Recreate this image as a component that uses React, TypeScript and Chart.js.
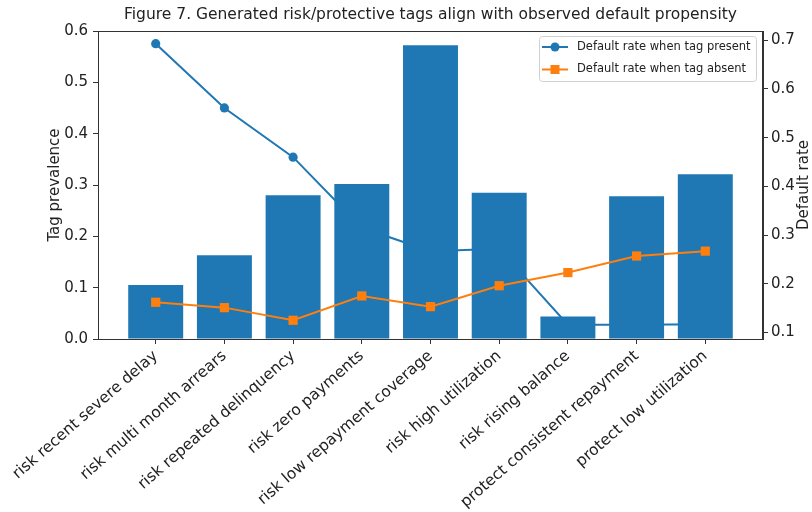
import React, { useEffect, useRef } from 'react';
import { Chart, registerables } from 'chart.js';

Chart.register(...registerables);

const categories = [
  'risk recent severe delay',
  'risk multi month arrears',
  'risk repeated delinquency',
  'risk zero payments',
  'risk low repayment coverage',
  'risk high utilization',
  'risk rising balance',
  'protect consistent repayment',
  'protect low utilization',
];
const prevalence = [0.105, 0.163, 0.28, 0.302, 0.572, 0.285, 0.044, 0.278, 0.321];
const ratePresent = [0.693, 0.561, 0.46, 0.315, 0.267, 0.272, 0.116, 0.116, 0.117];
const rateAbsent = [0.162, 0.151, 0.125, 0.175, 0.153, 0.196, 0.223, 0.257, 0.267];
const leftTicks = [0, 0.1, 0.2, 0.3, 0.4, 0.5, 0.6];
const rightTicks = [0.1, 0.2, 0.3, 0.4, 0.5, 0.6, 0.7];

const titleText = 'Figure 7. Generated risk/protective tags align with observed default propensity';
const leftTitle = 'Tag prevalence';
const rightTitle = 'Default rate';
const legendPresent = 'Default rate when tag present';
const legendAbsent = 'Default rate when tag absent';

const BLUE = '#1f77b4';
const ORANGE = '#ff7f0e';
const AXIS = '#333333';
const TEXT = '#222222';
const FONT = "'DejaVu Sans', sans-serif";

const decorPlugin = {
  id: 'decor',
  afterDraw(chart: any) {
    const { ctx, chartArea } = chart;
    const { left, right, top, bottom } = chartArea;
    ctx.save();
    // frame
    ctx.strokeStyle = AXIS;
    ctx.lineWidth = 1;
    ctx.strokeRect(left + 0.5, top + 0.5, right - left - 1, bottom - top);
    // title
    ctx.fillStyle = TEXT;
    ctx.font = `15.5px ${FONT}`;
    ctx.textAlign = 'center';
    ctx.textBaseline = 'middle';
    ctx.fillText(titleText, (left + right) / 2, 15);
    // right axis title
    ctx.save();
    ctx.translate(804, (top + bottom) / 2);
    ctx.rotate(-Math.PI / 2);
    ctx.font = `15px ${FONT}`;
    ctx.fillText(rightTitle, 0, 0);
    ctx.restore();
    // legend
    const bx = 539.5, by = 36.5, bw = 217, bh = 45;
    ctx.fillStyle = 'rgba(255,255,255,0.8)';
    ctx.strokeStyle = '#d0d0d0';
    ctx.lineWidth = 1;
    ctx.beginPath();
    ctx.roundRect(bx, by, bw, bh, 3);
    ctx.fill();
    ctx.stroke();
    const rows = [
      { y: 47, color: BLUE, label: legendPresent, shape: 'circle' },
      { y: 69.5, color: ORANGE, label: legendAbsent, shape: 'square' },
    ];
    rows.forEach((r) => {
      ctx.strokeStyle = r.color;
      ctx.lineWidth = 2;
      ctx.beginPath();
      ctx.moveTo(542, r.y);
      ctx.lineTo(568, r.y);
      ctx.stroke();
      ctx.fillStyle = r.color;
      ctx.beginPath();
      if (r.shape === 'circle') {
        ctx.arc(555, r.y, 4.5, 0, Math.PI * 2);
      } else {
        ctx.rect(550.5, r.y - 4.5, 9, 9);
      }
      ctx.fill();
      ctx.fillStyle = TEXT;
      ctx.font = `11.5px ${FONT}`;
      ctx.textAlign = 'left';
      ctx.textBaseline = 'middle';
      ctx.fillText(r.label, 577, r.y);
    });
    ctx.restore();
  },
};

export default function App() {
  const ref = useRef<HTMLCanvasElement>(null);
  useEffect(() => {
    if (!ref.current) return;
    Chart.defaults.font.family = FONT;
    Chart.defaults.color = TEXT;
    const chart = new Chart(ref.current, {
      type: 'bar',
      data: {
        datasets: [
          {
            type: 'line',
            label: legendPresent,
            data: ratePresent.map((v, i) => ({ x: i, y: v })),
            yAxisID: 'y1',
            borderColor: BLUE,
            backgroundColor: BLUE,
            borderWidth: 2,
            pointStyle: 'circle',
            pointRadius: 4.6,
            pointBorderWidth: 0,
            pointBackgroundColor: BLUE,
            order: 3,
          } as any,
          {
            type: 'bar',
            label: leftTitle,
            data: prevalence.map((v, i) => ({ x: i, y: v })),
            yAxisID: 'y',
            backgroundColor: BLUE,
            borderWidth: 0,
            categoryPercentage: 1,
            barPercentage: 0.8,
            order: 2,
          } as any,
          {
            type: 'line',
            label: legendAbsent,
            data: rateAbsent.map((v, i) => ({ x: i, y: v })),
            yAxisID: 'y1',
            borderColor: ORANGE,
            backgroundColor: ORANGE,
            borderWidth: 2,
            pointStyle: 'rect',
            pointRadius: 6.5,
            pointBorderWidth: 0,
            pointBackgroundColor: ORANGE,
            order: 1,
          } as any,
        ],
      },
      options: {
        responsive: false,
        animation: false,
        layout: { padding: { top: 31, left: 0, right: 0, bottom: 0 } },
        plugins: {
          legend: { display: false },
          title: { display: false },
          tooltip: { enabled: false },
        },
        scales: {
          x: {
            type: 'linear',
            position: 'bottom',
            offset: false,
            min: -0.84,
            max: 8.84,
            afterFit: (s: any) => { s.height = 173; },
            afterBuildTicks: (s: any) => { s.ticks = categories.map((_, i) => ({ value: i })); },
            grid: { offset: false, drawOnChartArea: false, drawTicks: true, tickLength: 5, color: AXIS },
            border: { display: true, color: AXIS },
            ticks: {
              autoSkip: false,
              minRotation: 41,
              maxRotation: 41,
              padding: 3,
              font: { size: 15.5 },
              color: TEXT,
              callback: (v: any) => categories[Math.round(Number(v))] ?? '',
            },
          },
          y: {
            type: 'linear',
            position: 'left',
            min: 0,
            max: 0.6,
            afterFit: (s: any) => { s.width = 98; },
            afterBuildTicks: (s: any) => { s.ticks = leftTicks.map((v) => ({ value: v })); },
            grid: { drawOnChartArea: false, drawTicks: true, tickLength: 5, color: AXIS },
            border: { display: true, color: AXIS },
            title: { display: true, text: leftTitle, font: { size: 15 }, color: TEXT, padding: { top: 46, bottom: 0 } },
            ticks: { padding: 5, font: { size: 15 }, color: TEXT, callback: (v: any) => Number(v).toFixed(1) },
          },
          y1: {
            type: 'linear',
            position: 'right',
            min: 0.0866,
            max: 0.719,
            afterFit: (s: any) => { s.width = 49; },
            afterBuildTicks: (s: any) => { s.ticks = rightTicks.map((v) => ({ value: v })); },
            grid: { drawOnChartArea: false, drawTicks: true, tickLength: 5, color: AXIS },
            border: { display: true, color: AXIS },
            ticks: { padding: 3, font: { size: 15 }, color: TEXT, callback: (v: any) => Number(v).toFixed(1) },
          },
        },
      } as any,
      plugins: [decorPlugin],
    });
    return () => chart.destroy();
  }, []);
  return (
    <div style={{ position: 'fixed', left: 0, top: 0, width: 812, height: 512, background: '#fff' }}>
      <canvas ref={ref} width={812} height={512} style={{ width: 812, height: 512 }} />
    </div>
  );
}
